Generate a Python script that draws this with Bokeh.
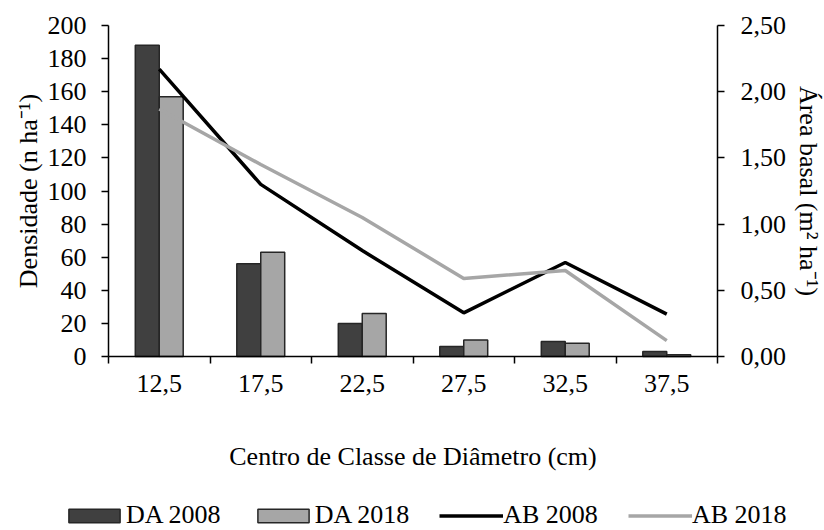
from bokeh.plotting import figure
from bokeh.models import (Range1d, LinearAxis, FixedTicker, Legend, LegendItem,
                          ColumnDataSource)
from bokeh.embed import file_html
from bokeh.resources import INLINE

# ---- data ----
categories = ["12,5", "17,5", "22,5", "27,5", "32,5", "37,5"]
da_2008 = [188, 56, 20, 6, 9, 3]
da_2018 = [157, 63, 26, 10, 8, 1]
ab_2008 = [2.17, 1.30, 0.80, 0.33, 0.71, 0.32]
ab_2018 = [1.87, 1.45, 1.05, 0.59, 0.65, 0.12]
left_ticks = [0, 20, 40, 60, 80, 100, 120, 140, 160, 180, 200]
right_ticks = [0.0, 0.5, 1.0, 1.5, 2.0, 2.5]
right_tick_labels = ["0,00", "0,50", "1,00", "1,50", "2,00", "2,50"]
series_names = ["DA 2008", "DA 2018", "AB 2008", "AB 2018"]

FONT = "Liberation Serif"
FS = "26px"
DARK = "#404040"
GRAY = "#a6a6a6"
EDGE = "#262626"

W, H = 824, 530
# plot area in canvas pixels
PX_L, PX_R, PX_T, PX_B = 108, 717, 25, 356

n = len(categories)
centers = [i + 0.5 for i in range(n)]
bw = 0.236
y_max, ab_max = 200.0, 2.5

# ranges chosen so that the whole canvas is the frame (axes are fixed inside it)
xpx = (PX_R - PX_L) / n
ypx = (PX_B - PX_T) / y_max
apx = (PX_B - PX_T) / ab_max
x_range = Range1d(-PX_L / xpx, n + (W - PX_R) / xpx)
y_range = Range1d(-(H - PX_B) / ypx, y_max + PX_T / ypx)
ab_range = Range1d(-(H - PX_B) / apx, ab_max + PX_T / apx)

src = ColumnDataSource(dict(
    xc=centers,
    x08=[c - bw / 2 for c in centers],
    x18=[c + bw / 2 for c in centers],
    da08=da_2008, da18=da_2018, ab08=ab_2008, ab18=ab_2018,
))

p = figure(width=W, height=H, output_backend="svg", toolbar_location=None,
           x_range=x_range, y_range=y_range,
           min_border=0, min_border_left=0, min_border_right=0,
           min_border_top=0, min_border_bottom=0,
           x_axis_location=None, y_axis_location=None)
p.extra_y_ranges = {"ab": ab_range}
p.grid.visible = False
p.outline_line_color = None
p.background_fill_color = "white"
p.border_fill_color = "white"

r1 = p.vbar(x="x08", top="da08", width=bw, bottom=0, source=src,
            fill_color=DARK, line_color=EDGE, line_width=1.5)
r2 = p.vbar(x="x18", top="da18", width=bw, bottom=0, source=src,
            fill_color=GRAY, line_color=EDGE, line_width=1.5)
r3 = p.line(x="xc", y="ab08", source=src, y_range_name="ab",
            line_color="black", line_width=3.5)
r4 = p.line(x="xc", y="ab18", source=src, y_range_name="ab",
            line_color=GRAY, line_width=3.5)


def style_axis(ax):
    ax.axis_line_color = "black"
    ax.axis_line_width = 1.5
    ax.major_tick_line_color = "black"
    ax.major_tick_line_width = 1.5
    ax.major_tick_out = 7
    ax.major_tick_in = 0
    ax.minor_tick_line_color = None
    ax.major_label_text_font = FONT
    ax.major_label_text_font_size = FS
    ax.major_label_text_color = "black"
    ax.axis_label_text_font = FONT
    ax.axis_label_text_font_size = FS
    ax.axis_label_text_font_style = "normal"
    ax.axis_label_text_color = "black"


# x axis at y = 0: labels at class centres, ticks at class boundaries
xax = LinearAxis(ticker=FixedTicker(ticks=centers,
                                    minor_ticks=list(range(n + 1))),
                 fixed_location=0, bounds=(0, n))
style_axis(xax)
xax.major_tick_line_color = None
xax.minor_tick_line_color = "black"
xax.minor_tick_line_width = 1.5
xax.minor_tick_out = 7
xax.minor_tick_in = 0
xax.major_label_overrides = {c: lab for c, lab in zip(centers, categories)}
xax.major_label_standoff = 11
xax.axis_label = "Centro de Classe de Diâmetro (cm)"
xax.axis_label_standoff = 47
p.add_layout(xax, "below")

lax = LinearAxis(ticker=FixedTicker(ticks=left_ticks),
                 fixed_location=0, bounds=(0, y_max))
style_axis(lax)
lax.major_label_standoff = 15
lax.axis_label = "Densidade (n ha⁻¹)"
lax.axis_label_standoff = 2
p.add_layout(lax, "left")

rax = LinearAxis(y_range_name="ab", ticker=FixedTicker(ticks=right_ticks),
                 fixed_location=n, bounds=(0, ab_max))
style_axis(rax)
rax.major_label_overrides = {t: lab for t, lab in zip(right_ticks, right_tick_labels)}
rax.major_label_standoff = 16
rax.axis_label = "Área basal (m² ha⁻¹)"
rax.axis_label_standoff = 5
rax.axis_label_orientation = "vertical"
p.add_layout(rax, "right")

legend = Legend(items=[LegendItem(label=nm, renderers=[r])
                       for nm, r in zip(series_names, [r1, r2, r3, r4])],
                orientation="horizontal", location=(62, 0),
                glyph_width=64, glyph_height=17, label_standoff=0, spacing=30,
                label_text_font=FONT, label_text_font_size=FS,
                label_text_color="black",
                border_line_color=None, background_fill_alpha=0,
                padding=0, margin=0)
p.add_layout(legend, "center")

open("out.html", "w").write(file_html(p, INLINE))
